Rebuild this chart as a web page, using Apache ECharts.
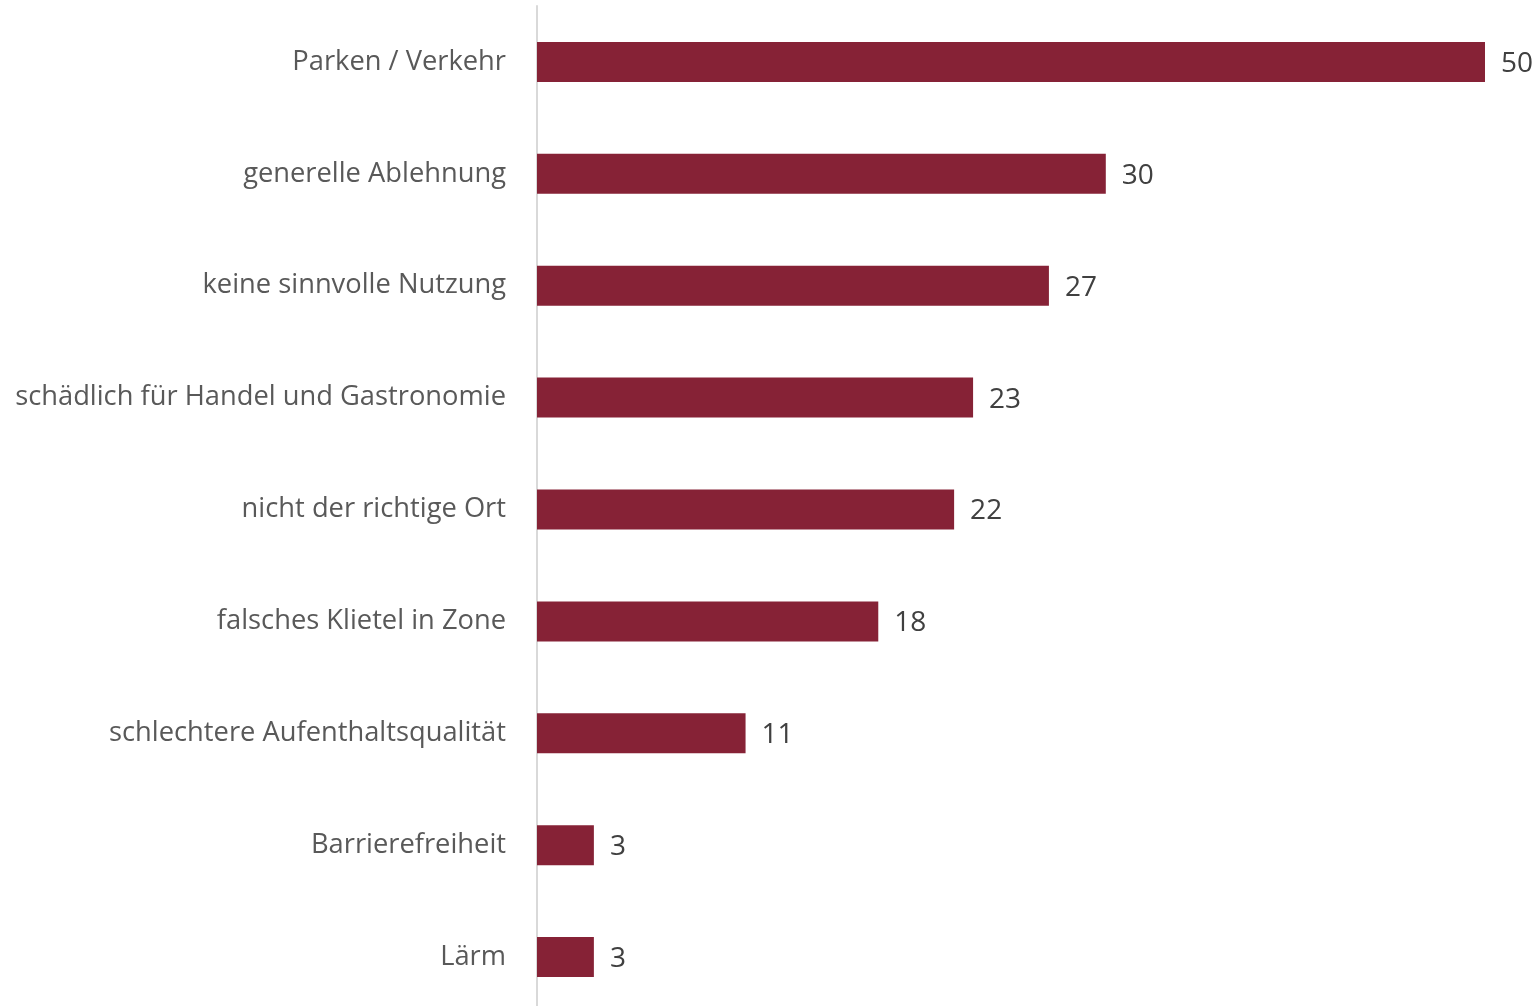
<!DOCTYPE html>
<html lang="de">
<head>
    <meta charset="UTF-8">
    <title>Gründe gegen die Zone</title>
    <style>
        html, body { margin: 0; padding: 0; width: 100%; height: 100%; background: #fff; }
        #chart { width: 1537px; height: 1006px; }
    </style>
</head>
<body>
<div id="chart"></div>
<script src="https://cdn.jsdelivr.net/npm/echarts@6/dist/echarts.min.js"></script>
<script type="text/javascript">
    // data, top to bottom as in the picture
    var categories = ['Parken / Verkehr', 'generelle Ablehnung', 'keine sinnvolle Nutzung',
        'schädlich für Handel und Gastronomie', 'nicht der richtige Ort', 'falsches Klietel in Zone',
        'schlechtere Aufenthaltsqualität', 'Barrierefreiheit', 'Lärm'];
    var values = [50, 30, 27, 23, 22, 18, 11, 3, 3];

    var myChart = echarts.init(document.getElementById('chart'));
    var option = {
        backgroundColor: '#fff',
        animation: false,
        grid: { left: 537, top: 6, width: 948, height: 1007, outerBoundsMode: 'none' },
        xAxis: {
            type: 'value',
            min: 0,
            max: 50,
            show: false
        },
        yAxis: {
            type: 'category',
            inverse: true,
            data: categories,
            axisLine: { show: true, lineStyle: { color: '#d9d9d9', width: 2 } },
            axisTick: { show: false },
            axisLabel: {
                margin: 31,
                padding: [5, 0, 0, 0],
                color: '#595959',
                fontSize: 27.3,
                fontFamily: 'Open Sans'
            }
        },
        series: [{
            type: 'bar',
            data: values,
            barWidth: 40,
            itemStyle: { color: '#862236' },
            label: {
                show: true,
                position: 'right',
                distance: 16,
                offset: [0, 2],
                color: '#404040',
                fontSize: 28,
                fontFamily: 'Open Sans'
            }
        }]
    };
    myChart.setOption(option);
</script>
</body>
</html>
